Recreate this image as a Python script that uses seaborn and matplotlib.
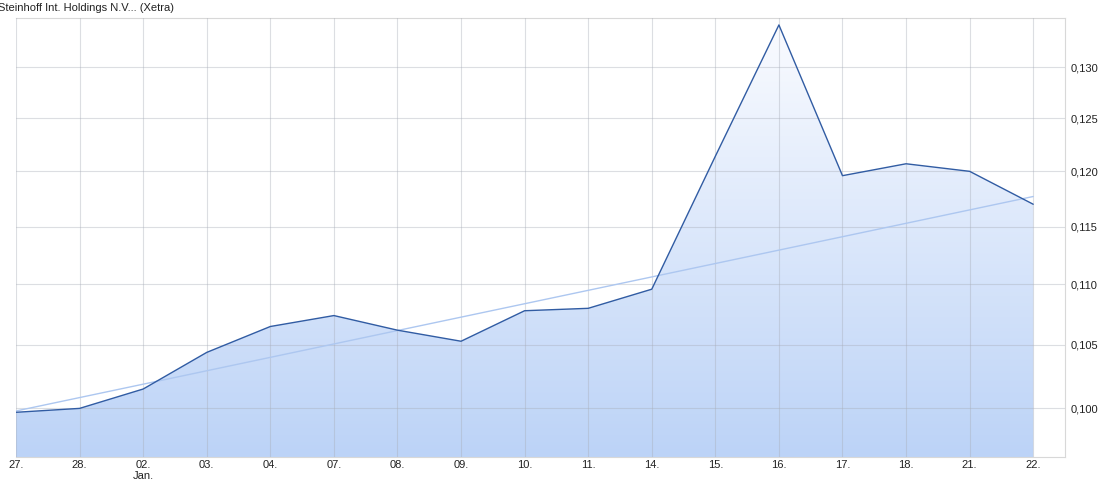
import numpy as np
import pandas as pd
import matplotlib
matplotlib.use("Agg")
import matplotlib.pyplot as plt
import seaborn as sns
from matplotlib.colors import LinearSegmentedColormap

# ---- data ----
dates = ["27.", "28.", "02.\nJan.", "03.", "04.", "07.", "08.", "09.", "10.", "11.",
         "14.", "15.", "16.", "17.", "18.", "21.", "22."]
prices = [0.0997, 0.1000, 0.1015, 0.1044, 0.1065, 0.1074, 0.1062, 0.1053, 0.1078,
          0.1080, 0.1096, 0.1214, 0.1343, 0.1196, 0.1207, 0.1200, 0.1170]
trend_values = [0.0998, 0.1177]
y_ticks = [0.100, 0.105, 0.110, 0.115, 0.120, 0.125, 0.130]
title = "Steinhoff Int. Holdings N.V... (Xetra)"

sns.set_theme(style="white")
plt.rcParams["font.family"] = ["Liberation Sans", "DejaVu Sans"]

fig = plt.figure(figsize=(11.01, 4.86), dpi=100)
ax = fig.add_axes([16/1101, 1-457/486, (1065-16)/1101, (457-18)/486])

df = pd.DataFrame({"idx": np.arange(len(prices)), "price": prices})
ymin, ymax = 0.09633, 0.13502

ax.set_yscale("log")

# gradient area
poly = ax.fill_between(df["idx"], df["price"], ymin, facecolor="none", edgecolor="none")
cmap = LinearSegmentedColormap.from_list("g", ["#bcd3f7", "#fbfcff"])
grad = np.linspace(0, 1, 256).reshape(-1, 1)
im = ax.imshow(grad, extent=[0, 1, 0, 1], transform=ax.transAxes, origin="lower",
               aspect="auto", cmap=cmap, zorder=1)
im.set_clip_path(poly.get_paths()[0], transform=ax.transData)

# trend line
ax.plot([0, len(prices)-1], trend_values, color="#adc7f0", lw=1.0, zorder=3)

# main line
sns.lineplot(data=df, x="idx", y="price", ax=ax, color="#315ca3", lw=1.0, zorder=4)

ax.set_xlim(0, 16.5)
ax.set_ylim(ymin, ymax)

ax.set_xticks(df["idx"])
ax.set_xticklabels(dates, fontsize=8, color="#222222")
ax.yaxis.tick_right()
ax.set_yticks(y_ticks)
ax.set_yticklabels([f"{v:.3f}".replace(".", ",") for v in y_ticks], fontsize=8, color="#222222")
ax.minorticks_off()
ax.tick_params(axis="both", length=0)
ax.tick_params(axis="y", pad=4)
ax.tick_params(axis="x", pad=2)
ax.set_xlabel("")
ax.set_ylabel("")

ax.grid(True, color="#a8adb8", alpha=0.4, lw=0.8, zorder=2)
ax.set_axisbelow(False)

for s in ["top", "right", "bottom"]:
    ax.spines[s].set_color("#d8d8d8")
    ax.spines[s].set_linewidth(0.8)
ax.spines["left"].set_visible(False)

fig.text(-0.002, 1-8/486, title, fontsize=8, color="#222222", ha="left", va="center")

fig.savefig("out.png", dpi=100)
